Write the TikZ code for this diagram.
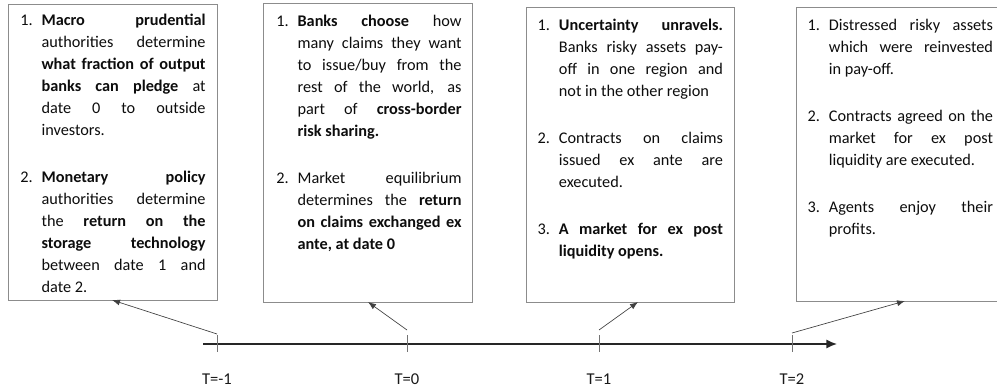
\documentclass[tikz,border=0pt]{standalone}
\usepackage{fontspec}
\setmainfont{Carlito}
\usetikzlibrary{arrows.meta}

\hyphenpenalty=10000
\tolerance=10000

% numbered paragraph with hanging indent
\newcommand\itm[2]{\leavevmode\hangindent=16pt\hangafter=0
  \llap{\makebox[16pt][l]{#1}}#2\par}

\begin{document}
\begin{tikzpicture}[x=0.75pt, y=-0.75pt,
        box/.style={draw=black!45, line width=0.75pt, fill=white, inner sep=0pt, anchor=north west},
        txt/.style={inner sep=0pt, anchor=base west, text width=139pt, align=justify, text=black!95,
                    font=\fontsize{12.2pt}{16.5pt}\selectfont},
        lbl/.style={inner sep=0pt, anchor=center, text=black!90, font=\fontsize{12.4pt}{15pt}\selectfont},
        tick/.style={black!55, line width=0.6pt},
        link/.style={black!75, line width=0.5pt, -{Latex[length=6pt,width=4.5pt]}}
      ]
  \useasboundingbox (0,0) rectangle (997,392);

  % the four stages
  \node[box, minimum width=156.75pt, minimum height=222pt]    (b1) at (8,4) {};
  \node[box, minimum width=156.75pt, minimum height=224.25pt] (b2) at (263,3) {};
  \node[box, minimum width=156pt,    minimum height=221.25pt] (b3) at (526,7) {};
  \node[box, minimum width=157.5pt,  minimum height=220.5pt]  (b4) at (796,7) {};

  \node[txt] (t1) at ([xshift=9pt, yshift=-16.5pt]b1.north west) {%
    \itm{1.}{\textbf{Macro prudential}\linebreak authorities determine\linebreak
      \textbf{what fraction of output}\linebreak \textbf{banks can pledge} at\linebreak
      date 0 to outside\linebreak investors.}
    \vspace{18.75pt}
    \itm{2.}{\textbf{Monetary policy}\linebreak authorities determine\linebreak
      the \textbf{return on the}\linebreak \textbf{storage technology}\linebreak
      between date 1 and\linebreak date 2.}};

  \node[txt] (t2) at ([xshift=9.75pt, yshift=-17.75pt]b2.north west) {%
    \itm{1.}{\textbf{Banks choose} how\linebreak many claims they want\linebreak
      to issue/buy from the\linebreak rest of the world, as\linebreak
      part of \textbf{cross-border}\linebreak \textbf{risk sharing.}}
    \vspace{18.75pt}
    \itm{2.}{Market equilibrium\linebreak determines the \textbf{return}\linebreak
      \textbf{on claims exchanged ex}\linebreak \textbf{ante, at date 0}}};

  \node[txt] (t3) at ([xshift=8.5pt, yshift=-18pt]b3.north west) {%
    \itm{1.}{\textbf{Uncertainty unravels.}\linebreak Banks risky assets pay-\linebreak
      off in one region and\linebreak not in the other region}
    \vspace{18.75pt}
    \itm{2.}{Contracts on claims\linebreak issued ex ante are\linebreak executed.}
    \vspace{18.75pt}
    \itm{3.}{\textbf{A market for ex post}\linebreak \textbf{liquidity opens.}}};

  \node[txt] (t4) at ([xshift=8.5pt, yshift=-17.75pt]b4.north west) {%
    \itm{1.}{Distressed risky assets\linebreak which were reinvested\linebreak in pay-off.}
    \vspace{18.75pt}
    \itm{2.}{Contracts agreed on the\linebreak market for ex post\linebreak
      liquidity are executed.}
    \vspace{18.75pt}
    \itm{3.}{Agents enjoy their\linebreak profits.}};

  % time line
  \coordinate (start) at (203,344);
  \coordinate (end) at (837,344);
  \draw[black!85, line width=1.2pt, -{Latex[length=8pt,width=7pt]}] (start) -- (end);

  \foreach \x/\t [count=\i] in {217/-1, 407/0, 599/1, 792/2} {
    \draw[tick] (\x,335) -- (\x,352);
    \node[lbl] (l\i) at (\x,379) {T=\t};
  }

  % pointers up to the boxes
  \foreach \i/\x/\y/\u/\v in {1/217/334/112/300, 2/407/330/368/302,
                              3/599/330/638/302, 4/792/333/905/301} {
    \coordinate (s\i) at (\x,\y);
    \coordinate (e\i) at (\u,\v);
    \draw[link] (s\i) -- (e\i);
  }

\end{tikzpicture}
\end{document}
